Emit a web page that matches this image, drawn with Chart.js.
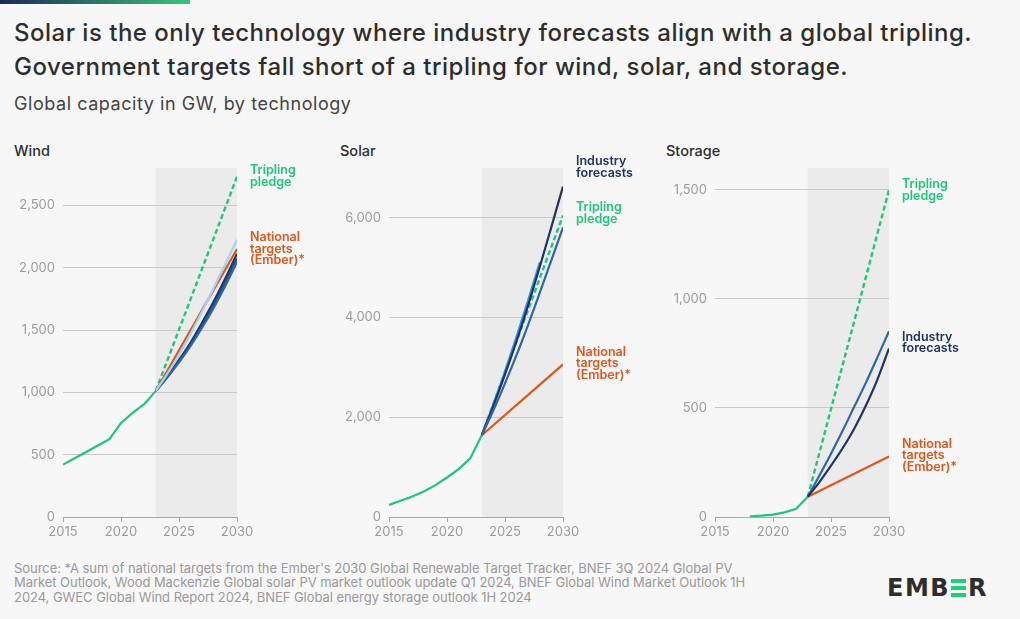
<!DOCTYPE html>
<html>
<head>
<meta charset="utf-8">
<script src="https://cdn.jsdelivr.net/npm/chart.js@4.4.1/dist/chart.umd.min.js"></script>
<style>
  html, body { margin: 0; padding: 0; background: #f7f7f7; }
  body { width: 1020px; height: 619px; position: relative; overflow: hidden; font-family: Inter, Roboto, "Noto Sans", sans-serif; }
  .bar { position: absolute; left: 0; top: 0; width: 190px; height: 4px; background: linear-gradient(90deg, #1b2a52, #3cc47a); }
  .title { position: absolute; left: 14px; top: 16px; font-size: 24px; line-height: 34px; font-weight: 500; color: #2e2e2e; white-space: nowrap; letter-spacing: 0.5px; }
  .subtitle { position: absolute; left: 14px; top: 93px; font-size: 18px; color: #444; white-space: nowrap; letter-spacing: 0.55px; }
  .panel-title { position: absolute; top: 142px; font-size: 14.5px; font-weight: 500; color: #2e2e2e; }
  canvas.c { position: absolute; }
  .source { position: absolute; left: 14px; top: 561px; font-size: 13px; line-height: 14.3px; color: #9a9a9a; white-space: nowrap; letter-spacing: -0.05px; }
  .logo { position: absolute; left: 887px; top: 574px; font-family: "DejaVu Sans", Roboto, sans-serif; font-weight: 700; font-size: 24px; color: #2d2d2d; letter-spacing: 1.5px; line-height: 28px; white-space: nowrap; }
  .logo .g { display: inline-block; width: 15px; height: 18px; margin: 0 2px 0 1px; vertical-align: -1px; position: relative; }
  .logo .g i { position: absolute; left: 0; width: 15px; height: 4px; background: #1fcf7c; }
</style>
</head>
<body>
<div class="bar"></div>
<div class="title">Solar is the only technology where industry forecasts align with a global tripling.<br>Government targets fall short of a tripling for wind, solar, and storage.</div>
<div class="subtitle">Global capacity in GW, by technology</div>

<div class="panel-title" style="left:14px">Wind</div>
<div class="panel-title" style="left:340px">Solar</div>
<div class="panel-title" style="left:666px">Storage</div>

<canvas class="c" id="wind" width="340" height="420" style="left:0px;top:130px;width:340px;height:420px"></canvas>
<canvas class="c" id="solar" width="330" height="420" style="left:330px;top:130px;width:330px;height:420px"></canvas>
<canvas class="c" id="storage" width="350" height="420" style="left:660px;top:130px;width:350px;height:420px"></canvas>

<div class="source">Source: *A sum of national targets from the Ember's 2030 Global Renewable Target Tracker, BNEF 3Q 2024 Global PV<br>Market Outlook, Wood Mackenzie Global solar PV market outlook update Q1 2024, BNEF Global Wind Market Outlook 1H<br>2024, GWEC Global Wind Report 2024, BNEF Global energy storage outlook 1H 2024</div>
<div class="logo">EMB<span class="g"><i style="top:0"></i><i style="top:7px"></i><i style="top:14px"></i></span>R</div>

<script>
// ---------------- DATA ----------------
const historyYears = [2015, 2016, 2017, 2018, 2019, 2020, 2021, 2022, 2023];
const forecastYears = [2023, 2024, 2025, 2026, 2027, 2028, 2029, 2030];
const endpointYears = [2023, 2030];

// Wind (GW)
const windHistory = [420, 471, 522, 573, 625, 755, 836, 905, 1012];
const windTripling = [1012, 2730];
const windNational = [1012, 2150];
const windIndustryLight = [1012, 1150, 1300, 1470, 1650, 1840, 2030, 2225];
const windIndustryNavy = [1012, 1130, 1260, 1400, 1560, 1730, 1915, 2112];
const windIndustryMid = [1012, 1125, 1250, 1385, 1535, 1700, 1880, 2075];
const windIndustryBlue = [1012, 1120, 1240, 1372, 1520, 1680, 1855, 2045];

// Solar (GW)
const solarHistory = [240, 325, 413, 513, 640, 792, 960, 1175, 1640];
const solarTripling = [1640, 6050];
const solarNational = [1640, 3060];
const solarIndustryNavy = [1640, 2230, 2860, 3530, 4250, 5020, 5820, 6630];
const solarIndustryBlue = [1640, 2140, 2680, 3250, 3860, 4500, 5150, 5810];
const solarIndustryLightYears = [2023, 2024, 2025, 2026, 2027, 2028];
const solarIndustryLight = [1640, 2260, 2920, 3620, 4350, 5110];

// Storage (GW)
const storageHistoryYears = [2018, 2019, 2020, 2021, 2022, 2023];
const storageHistory = [3, 6, 11, 21, 38, 93];
const storageTripling = [93, 1500];
const storageNational = [93, 277];
const storageIndustryBlue = [93, 190, 290, 395, 505, 615, 732, 852];
const storageIndustryNavy = [93, 160, 235, 315, 405, 510, 630, 773];

// Tick labels
const xTickYears = [2015, 2020, 2025, 2030];
const windTicks = [0, 500, 1000, 1500, 2000, 2500];
const solarTicks = [0, 2000, 4000, 6000];
const storageTicks = [0, 500, 1000, 1500];

// ---------------- STYLE ----------------
const GREEN = '#20c77a';
const ORANGE = '#e0571d';
const NAVY = '#1f3462';
const BLUE = '#2f67a6';
const MID = '#244c86';
const LIGHT = '#a6d3ee';
const SOLARLIGHT = '#3d8fd6';

function pts(xs, ys) { return xs.map((x, i) => ({ x: x, y: ys[i] })); }

function line(data, color, opts) {
  return Object.assign({
    data: data, borderColor: color, backgroundColor: color, borderWidth: 2.2,
    pointRadius: 0, pointHoverRadius: 0, tension: 0, fill: false
  }, opts || {});
}
const smooth = { cubicInterpolationMode: 'monotone' };
const dashed = { borderDash: [5, 3], borderWidth: 2.4 };

const shadePlugin = {
  id: 'shade',
  beforeDraw(chart) {
    const { ctx, chartArea, scales } = chart;
    const x0 = scales.x.getPixelForValue(2023);
    const x1 = scales.x.getPixelForValue(2030);
    ctx.save();
    ctx.fillStyle = '#ebebeb';
    ctx.fillRect(x0, chartArea.top, x1 - x0, chartArea.bottom - chartArea.top);
    ctx.restore();
  }
};

const endLabelPlugin = {
  id: 'endLabels',
  afterDraw(chart, args, opts) {
    const { ctx, chartArea, scales } = chart;
    ctx.save();
    ctx.font = '600 12.5px Inter, Roboto, sans-serif';
    ctx.textBaseline = 'middle';
    ctx.textAlign = 'left';
    (opts.items || []).forEach(it => {
      const y0 = scales.y.getPixelForValue(it.at);
      ctx.fillStyle = it.color;
      it.lines.forEach((t, i) => ctx.fillText(t, chartArea.right + 13, y0 + i * 11.5));
    });
    ctx.restore();
  }
};

function makeChart(id, datasets, yMax, yTicks, yWidth, padRight, labels) {
  new Chart(document.getElementById(id), {
    type: 'line',
    data: { datasets: datasets },
    plugins: [shadePlugin, endLabelPlugin],
    options: {
      responsive: false, animation: false, events: [],
      layout: { padding: { top: 38, right: padRight, bottom: 0, left: 0 } },
      plugins: { legend: { display: false }, tooltip: { enabled: false }, endLabels: { items: labels } },
      scales: {
        x: {
          type: 'linear', min: 2015, max: 2030,
          afterBuildTicks: s => { s.ticks = xTickYears.map(v => ({ value: v })); },
          afterFit: s => { s.height = 33; },
          grid: { display: true, drawOnChartArea: false, drawTicks: true, tickLength: 5, color: '#a8a8a8', lineWidth: 1 },
          border: { display: true, color: '#a8a8a8', width: 1 },
          ticks: { color: '#9c9c9c', font: { family: 'Inter, Roboto, sans-serif', size: 13 }, padding: 2, maxRotation: 0, autoSkip: false, callback: v => String(v) }
        },
        y: {
          type: 'linear', min: 0, max: yMax,
          afterBuildTicks: s => { s.ticks = yTicks.map(v => ({ value: v })); },
          afterFit: s => { s.width = yWidth; },
          grid: { color: c => c.tick && c.tick.value === 0 ? 'rgba(0,0,0,0)' : '#c9c9c9', lineWidth: 1, drawTicks: false },
          border: { display: false },
          ticks: { color: '#9c9c9c', font: { family: 'Inter, Roboto, sans-serif', size: 13 }, padding: 8, callback: v => v.toLocaleString('en-US') }
        }
      }
    }
  });
}

// Wind: chart area x 63..237
makeChart('wind', [
  line(pts(forecastYears, windIndustryLight), LIGHT, smooth),
  line(pts(forecastYears, windIndustryBlue), BLUE, smooth),
  line(pts(forecastYears, windIndustryMid), MID, smooth),
  line(pts(forecastYears, windIndustryNavy), NAVY, smooth),
  line(pts(endpointYears, windNational), ORANGE),
  line(pts(endpointYears, windTripling), GREEN, dashed),
  line(pts(historyYears, windHistory), GREEN)
], 2800, windTicks, 63, 103, [
  { at: 2780, color: GREEN, lines: ['Tripling', 'pledge'] },
  { at: 2244, color: ORANGE, lines: ['National', 'targets', '(Ember)*'] }
]);

// Solar: chart area x 389..563
makeChart('solar', [
  line(pts(forecastYears, solarIndustryBlue), BLUE, smooth),
  line(pts(forecastYears, solarIndustryNavy), NAVY, smooth),
  line(pts(solarIndustryLightYears, solarIndustryLight), SOLARLIGHT, smooth),
  line(pts(endpointYears, solarNational), ORANGE),
  line(pts(endpointYears, solarTripling), GREEN, dashed),
  line(pts(historyYears, solarHistory), GREEN)
], 7000, solarTicks, 59, 97, [
  { at: 7126, color: NAVY, lines: ['Industry', 'forecasts'] },
  { at: 6206, color: GREEN, lines: ['Tripling', 'pledge'] },
  { at: 3306, color: ORANGE, lines: ['National', 'targets', '(Ember)*'] }
]);

// Storage: chart area x 715..889
makeChart('storage', [
  line(pts(forecastYears, storageIndustryNavy), NAVY, smooth),
  line(pts(forecastYears, storageIndustryBlue), BLUE, smooth),
  line(pts(endpointYears, storageNational), ORANGE),
  line(pts(endpointYears, storageTripling), GREEN, dashed),
  line(pts(storageHistoryYears, storageHistory), GREEN)
], 1600, storageTicks, 55, 121, [
  { at: 1525, color: GREEN, lines: ['Tripling', 'pledge'] },
  { at: 825, color: NAVY, lines: ['Industry', 'forecasts'] },
  { at: 335, color: ORANGE, lines: ['National', 'targets', '(Ember)*'] }
]);
</script>
</body>
</html>
